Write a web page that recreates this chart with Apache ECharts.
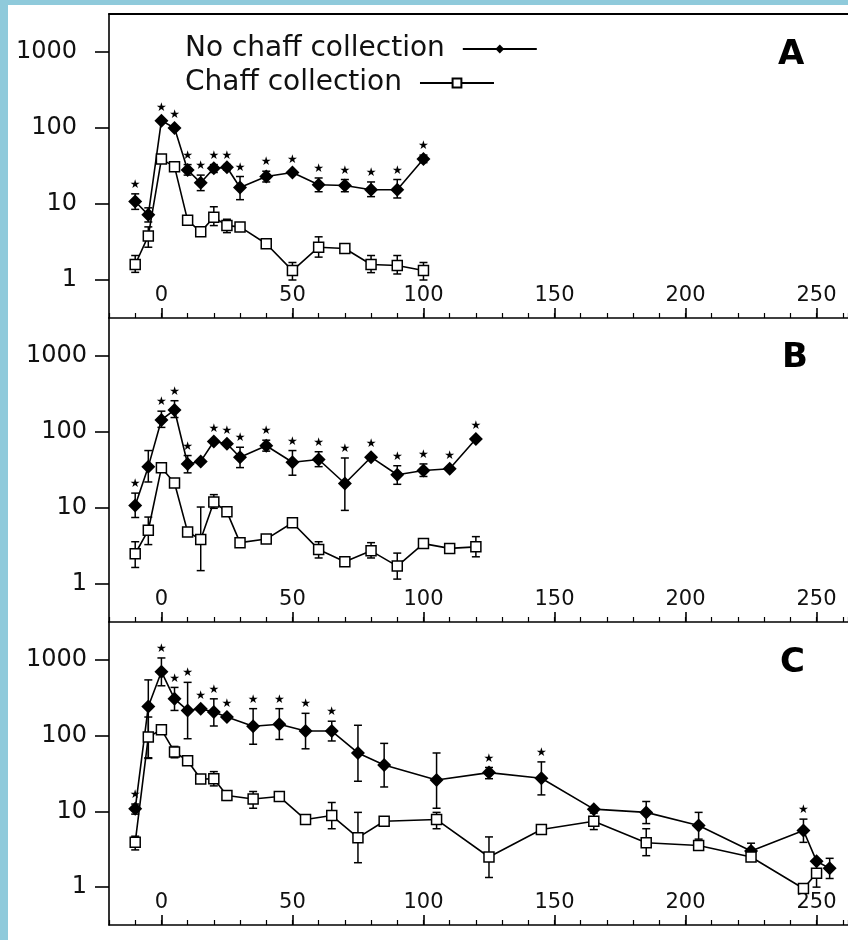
<!DOCTYPE html>
<html>
<head>
<meta charset="utf-8">
<script src="https://cdn.jsdelivr.net/npm/echarts@6/dist/echarts.min.js"></script>
<style>
  html, body { margin: 0; padding: 0; background: #8fcadb; }
  #chart { position: absolute; left: 8px; top: 5px; width: 840px; height: 935px; background: #fff; }
</style>
</head>
<body>
<div id="chart"></div>
<script>
// ---- data (days after treatment, counts on a log scale) ----
const daysA = [-10, -5, 0, 5, 10, 15, 20, 25, 30, 40, 50, 60, 70, 80, 90, 100];
const noChaffA = [10.8, 7.2, 125, 100, 28, 19, 29.5, 30.5, 16.5, 23, 26, 17.9, 17.5, 15.4, 15.4, 39];
const noChaffAHi = [13.6, 8.9, null, null, 33, 24, 33, 33, 23, 27, null, 22, 21, 19.5, 21, 44];
const noChaffALo = [8.5, 5.8, null, null, 24, 15, 26, 28, 11.4, 19.5, null, 14.5, 14.5, 12.5, 12, 35];
const chaffA = [1.6, 3.8, 39, 31, 6.1, 4.3, 6.7, 5.2, 5.0, 3.0, 1.33, 2.7, 2.6, 1.6, 1.55, 1.33];
const chaffAHi = [2.1, 5.0, null, null, 6.8, null, 9.2, 6.3, 5.6, null, 1.7, 3.7, 2.9, 2.1, 2.1, 1.7];
const chaffALo = [1.26, 2.7, null, null, 5.4, null, 5.2, 4.2, 4.5, null, 1.0, 2.0, 2.3, 1.25, 1.2, 1.0];
const starsA = [-10, 0, 5, 10, 15, 20, 25, 30, 40, 50, 60, 70, 80, 90, 100];

const daysB = [-10, -5, 0, 5, 10, 15, 20, 25, 30, 40, 50, 60, 70, 80, 90, 100, 110, 120];
const noChaffB = [10.8, 35, 144, 195, 38, 41, 75, 70, 46.6, 66, 40, 43.5, 21, 46.6, 27.4, 31.2, 32.8, 81];
const noChaffBHi = [15.7, 57, 188, 258, 49, null, null, null, 63, 78, 57, 55, 45.5, null, 36, 38, null, null];
const noChaffBLo = [7.5, 22, 115, 155, 29, null, null, null, 34, 56, 27, 35, 9.3, null, 20.5, 26, null, null];
const chaffB = [2.5, 5.1, 33.8, 21.3, 4.85, 3.85, 12, 8.9, 3.5, 3.9, 6.4, 2.85, 1.96, 2.73, 1.72, 3.4, 2.94, 3.08];
const chaffBHi = [3.6, 7.6, null, null, 5.5, 10.3, 15, 10.2, null, null, null, 3.6, null, 3.5, 2.55, null, null, 4.2];
const chaffBLo = [1.65, 3.3, null, null, 4.3, 1.5, 9.9, 7.8, null, null, null, 2.2, null, 2.2, 1.16, null, null, 2.28];
const starsB = [-10, 0, 5, 10, 20, 25, 30, 40, 50, 60, 70, 80, 90, 100, 110, 120];

const daysC1 = [-10, -5, 0, 5, 10, 15, 20, 25, 35, 45, 55, 65, 75, 85, 105, 125, 145, 165, 185, 205, 225, 245, 250, 255];
const noChaffC = [10.8, 243, 698, 306, 215, 227, 205, 176, 133, 141, 115, 115, 59, 41, 26, 32.5, 27.4, 10.7, 9.7, 6.5, 3.0, 5.6, 2.2, 1.77];
const noChaffCHi = [12.5, 544, 1060, 433, 505, null, 306, null, 227, 227, 197, 155, 137, 79, 59, 38, 45, null, 13.5, 9.7, 3.8, 7.9, null, 2.4];
const noChaffCLo = [9.2, 51, 455, 215, 91, null, 134, null, 77, 89, 67, 85, 25, 21, 11, 27, 16.5, null, 6.9, 4.3, 2.4, 3.9, null, 1.3];
const daysC2 = [-10, -5, 0, 5, 10, 15, 20, 25, 35, 45, 55, 65, 75, 85, 105, 125, 145, 165, 185, 205, 225, 245, 250];
const chaffC = [3.9, 96, 120, 61, 46.6, 26.8, 27, 16.2, 14.6, 15.7, 7.8, 8.8, 4.5, 7.4, 7.8, 2.5, 5.75, 7.4, 3.86, 3.55, 2.5, 0.96, 1.52];
const chaffCHi = [4.7, 176, null, 72, null, null, 33.5, 18.5, 18.3, null, null, 13.1, 9.7, null, 9.7, 4.6, 6.3, 9.5, 5.9, null, null, null, 2.2];
const chaffCLo = [3.1, 50, null, 51, null, null, 21.7, 14, 11, null, null, 5.9, 2.1, null, 5.9, 1.34, 5.2, 5.75, 2.6, null, null, null, 1.0];
const starsC = [-10, 0, 5, 10, 15, 20, 25, 35, 45, 55, 65, 125, 145, 245];

const xLabels = [0, 50, 100, 150, 200, 250];
const yLabels = [1, 10, 100, 1000];
const panelNames = ['A', 'B', 'C'];
const seriesNames = ['No chaff collection', 'Chaff collection'];

const FONT = 'DejaVu Sans';

const panels = [
  { top: 9, height: 304, labelMargin: 32, title: [765, 28],
    nc: [daysA, noChaffA, noChaffALo, noChaffAHi], c: [daysA, chaffA, chaffALo, chaffAHi], stars: starsA },
  { top: 313, height: 304, labelMargin: 22, title: [769, 331],
    nc: [daysB, noChaffB, noChaffBLo, noChaffBHi], c: [daysB, chaffB, chaffBLo, chaffBHi], stars: starsB },
  { top: 617, height: 303, labelMargin: 22, title: [767, 636],
    nc: [daysC1, noChaffC, noChaffCLo, noChaffCHi], c: [daysC2, chaffC, chaffCLo, chaffCHi], stars: starsC }
];

function pairs(xs, ys) { return xs.map((x, i) => [x, ys[i]]); }
function bars(xs, lo, hi) {
  return xs.map((x, i) => lo[i] == null ? null : [x, lo[i], hi[i]]).filter(Boolean);
}
function starRows(days, xs, ys, hi) {
  return days.map(d => {
    const i = xs.indexOf(d);
    return hi[i] != null ? [d, hi[i], 1] : [d, ys[i], 0];
  });
}

function renderErr(params, api) {
  const x = api.value(0);
  const p1 = api.coord([x, api.value(2)]);
  const p2 = api.coord([x, api.value(1)]);
  const w = 4;
  const st = { stroke: '#000', lineWidth: 1.5 };
  return {
    type: 'group',
    children: [
      { type: 'line', shape: { x1: p1[0], y1: p1[1], x2: p2[0], y2: p2[1] }, style: st },
      { type: 'line', shape: { x1: p1[0] - w, y1: p1[1], x2: p1[0] + w, y2: p1[1] }, style: st },
      { type: 'line', shape: { x1: p2[0] - w, y1: p2[1], x2: p2[0] + w, y2: p2[1] }, style: st }
    ]
  };
}

function renderStar(params, api) {
  const p = api.coord([api.value(0), api.value(1)]);
  const off = api.value(2) ? 9 : 13;
  return {
    type: 'text',
    style: {
      x: p[0], y: p[1] - off, text: '★',
      fill: '#000', fontSize: 12, fontFamily: FONT,
      align: 'center', verticalAlign: 'middle'
    }
  };
}

const lineStyle = { color: '#000', width: 1.6 };
const grids = [], xAxes = [], yAxes = [], series = [], titles = [];

panels.forEach((p, k) => {
  grids.push({ left: 101, right: -9, top: p.top, height: p.height });
  titles.push({
    text: panelNames[k], left: p.title[0], top: p.title[1],
    textStyle: { fontSize: 34, fontWeight: 'bold', color: '#000', fontFamily: FONT }
  });

  const xMain = xAxes.length;
  xAxes.push({
    gridIndex: k, type: 'value', min: -20, max: 262, interval: 10, position: 'bottom',
    axisLine: { show: true, onZero: false, lineStyle: lineStyle },
    axisTick: { show: true, inside: true, length: 5, lineStyle: { color: '#000', width: 1.2 } },
    axisLabel: {
      inside: true, margin: 12, customValues: xLabels,
      formatter: v => (v >= 0 && v % 50 === 0) ? String(v) : '',
      fontSize: 21, color: '#111', fontFamily: FONT
    },
    splitLine: { show: false }
  });
  // longer ticks at the labelled values
  xAxes.push({
    gridIndex: k, type: 'value', min: -20, max: 262, position: 'bottom',
    axisLine: { show: false, onZero: false },
    axisTick: { show: true, inside: true, length: 10, customValues: xLabels, lineStyle: lineStyle },
    axisLabel: { show: false },
    splitLine: { show: false }
  });
  if (k === 0) {
    xAxes.push({
      gridIndex: 0, type: 'value', min: -20, max: 262, position: 'top',
      axisLine: { show: true, onZero: false, lineStyle: { color: '#000', width: 2 } },
      axisTick: { show: false }, axisLabel: { show: false }, splitLine: { show: false }
    });
  }

  yAxes.push({
    gridIndex: k, type: 'log', logBase: 10, min: Math.pow(10, -0.5), max: Math.pow(10, 3.5),
    axisLine: { show: true, onZero: false, lineStyle: lineStyle },
    axisTick: { show: true, length: 14, customValues: yLabels, lineStyle: lineStyle },
    axisLabel: {
      customValues: yLabels, margin: p.labelMargin,
      formatter: v => {
        const l = Math.log10(v);
        return Math.abs(l - Math.round(l)) < 1e-6 ? String(Math.round(v)) : '';
      },
      fontSize: 24, color: '#111', fontFamily: FONT
    },
    splitLine: { show: false }
  });

  const [ncX, ncY, ncLo, ncHi] = p.nc;
  const [cX, cY, cLo, cHi] = p.c;

  series.push({
    type: 'custom', xAxisIndex: xMain, yAxisIndex: k, z: 3, silent: true,
    renderItem: renderErr, encode: { x: 0, y: [1, 2] },
    data: bars(ncX, ncLo, ncHi).concat(bars(cX, cLo, cHi))
  });
  series.push({
    type: 'line', name: seriesNames[0], xAxisIndex: xMain, yAxisIndex: k, z: 4,
    data: pairs(ncX, ncY), symbol: 'diamond', symbolSize: 14, showAllSymbol: true,
    lineStyle: lineStyle, itemStyle: { color: '#000' }
  });
  series.push({
    type: 'line', name: seriesNames[1], xAxisIndex: xMain, yAxisIndex: k, z: 5,
    data: pairs(cX, cY), symbol: 'rect', symbolSize: 10, showAllSymbol: true,
    lineStyle: lineStyle, itemStyle: { color: '#fff', borderColor: '#000', borderWidth: 1.5 }
  });
  series.push({
    type: 'custom', xAxisIndex: xMain, yAxisIndex: k, z: 6, silent: true,
    renderItem: renderStar, encode: { x: 0, y: 1 },
    data: starRows(p.stars, ncX, ncY, ncHi)
  });
});

const legendBase = {
  orient: 'horizontal', align: 'right', left: 172,
  itemWidth: 74, itemHeight: 11, selectedMode: false,
  textStyle: { fontSize: 28, color: '#111', fontFamily: FONT, padding: [0, 13, 0, 0] }
};

const chart = echarts.init(document.getElementById('chart'), null, { renderer: 'canvas' });
chart.setOption({
  animation: false,
  backgroundColor: '#fff',
  title: titles,
  legend: [
    Object.assign({}, legendBase, { data: [seriesNames[0]], top: 25 }),
    Object.assign({}, legendBase, { data: [seriesNames[1]], top: 59 })
  ],
  grid: grids,
  xAxis: xAxes,
  yAxis: yAxes,
  series: series
});
</script>
</body>
</html>
